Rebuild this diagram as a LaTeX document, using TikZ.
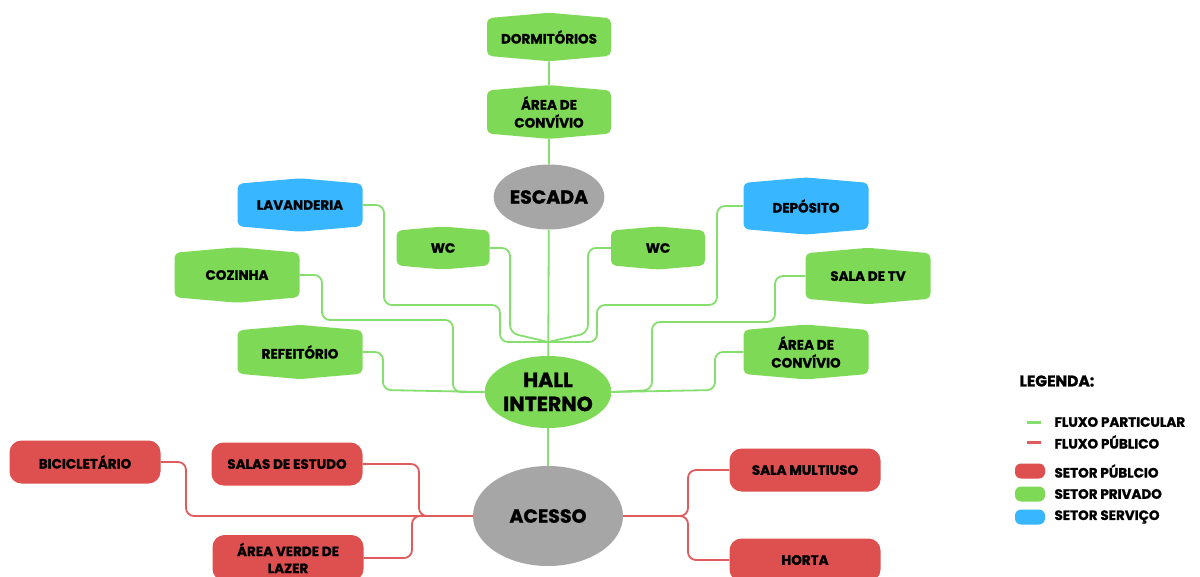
\documentclass[tikz,border=0pt]{standalone}
\usepackage{fontspec}
\setmainfont{Poppins}[BoldFeatures={FakeBold=1.2}]
\usetikzlibrary{shapes.symbols,shapes.geometric}
\definecolor{verde}{HTML}{7ED957}
\definecolor{azul}{HTML}{38B6FF}
\definecolor{vermelho}{HTML}{DE4F4F}
\definecolor{cinza}{HTML}{A6A6A6}
\definecolor{linhaverde}{HTML}{86DE6F}
\definecolor{linhavermelha}{HTML}{E05C5C}

\begin{document}
\begin{tikzpicture}[x=1pt, y=-1pt,
	hexa/.style={shape=signal, signal to=north and south, signal pointer angle=170,
		rounded corners=5pt, inner sep=0pt, align=center,
		font=\bfseries\fontsize{13.5}{18}\selectfont},
	privado/.style={hexa, fill=verde},
	servico/.style={hexa, fill=azul},
	publico/.style={rectangle, rounded corners=12pt, fill=vermelho, inner sep=0pt, align=center,
		minimum width=151pt, minimum height=43pt, font=\bfseries\fontsize{13.5}{17}\selectfont},
	bola/.style={ellipse, fill=cinza, inner sep=0pt, align=center, font=\bfseries\fontsize{19}{24}\selectfont},
	fluxopart/.style={draw=linhaverde, line width=1.8pt, rounded corners=8pt},
	fluxopub/.style={draw=linhavermelha, line width=1.8pt, rounded corners=8pt},
	legtxt/.style={anchor=west, font=\bfseries\fontsize{13.5}{15}\selectfont}]
			%%%%% START %%%%%
			\useasboundingbox[fill=white] (0,0) rectangle (1200,577);

			% nos centrais
			\node[bola, minimum width=106pt, minimum height=65pt] (escada) at (549,197) {ESCADA};
			\node[bola, fill=verde, minimum width=115pt, minimum height=72pt, font=\bfseries\fontsize{20.5}{24}\selectfont] (hall) at (548,392) {HALL\\INTERNO};
			\node[bola, minimum width=150pt, minimum height=100pt] (acesso) at (548,516) {ACESSO};

			% setor privado / servico
			\node[privado, minimum width=124pt, minimum height=46pt] (dorm) at (549,37) {DORMITÓRIOS};
			\node[privado, minimum width=124pt, minimum height=49pt] (conv1) at (549,112) {ÁREA DE\\CONVÍVIO};
			\node[servico, minimum width=125pt, minimum height=50pt] (lav) at (300,205) {LAVANDERIA};
			\node[privado, minimum width=93pt, minimum height=37pt] (wc1) at (443,248) {WC};
			\node[privado, minimum width=94pt, minimum height=37pt] (wc2) at (658,248) {WC};
			\node[servico, minimum width=125pt, minimum height=52pt] (dep) at (806,206) {DEPÓSITO};
			\node[privado, minimum width=125pt, minimum height=50pt] (coz) at (237,275) {COZINHA};
			\node[privado, minimum width=125pt, minimum height=52pt] (tv) at (868,276) {SALA DE TV};
			\node[privado, minimum width=125pt, minimum height=50pt] (ref) at (300,352) {REFEITÓRIO};
			\node[privado, minimum width=125pt, minimum height=50pt] (conv2) at (806,352) {ÁREA DE\\CONVÍVIO};

			% setor publico
			\node[publico] (bici) at (85,462) {BICICLETÁRIO};
			\node[publico] (estudo) at (287,464) {SALAS DE ESTUDO};
			\node[publico, minimum height=46pt] (lazer) at (288,558) {ÁREA VERDE DE\\LAZER};
			\node[publico] (multi) at (805,470) {SALA MULTIUSO};
			\node[publico] (horta) at (805,560) {HORTA};

			% pontos de juncao
			\coordinate (jtop) at (548,342);
			\coordinate (jesq) at (430,516);
			\coordinate (jdir) at (672,516);

			% fluxo particular
			\draw[fluxopart] (dorm) -- (conv1);
			\draw[fluxopart] (conv1) -- (escada);
			\draw[fluxopart] (escada) -- (hall);
			\draw[fluxopart] (hall) -- (acesso);
			\draw[fluxopart] (lav.east) -| (384,305) -| (500,342) -- (jtop);
			\draw[fluxopart] (wc1.east) -| (510,333) -- (jtop);
			\draw[fluxopart] (coz.east) -| (322,320) -| (453,392) -- (hall.west);
			\draw[fluxopart] (ref.east) -| (383,390) -- (hall.west);
			\draw[fluxopart] (wc2.west) -| (588,333) -- (jtop);
			\draw[fluxopart] (dep.west) -| (717,305) -| (597,342) -- (jtop);
			\draw[fluxopart] (tv.west) -| (775,322) -| (652,390) -- (hall.east);
			\draw[fluxopart] (conv2.west) -| (715,390) -- (hall.east);

			% fluxo publico
			\draw[fluxopub] (bici.east) -| (186,516) -- (acesso.west);
			\draw[fluxopub] (estudo.east) -| (419,516) -- (jesq);
			\draw[fluxopub] (lazer.east) -| (412,516) -- (jesq);
			\draw[fluxopub] (acesso.east) -- (jdir);
			\draw[fluxopub] (jdir) -| (688,470) -- (multi.west);
			\draw[fluxopub] (jdir) -| (688,560) -- (horta.west);

			% legenda
			\node[legtxt, font=\bfseries\fontsize{15.5}{17}\selectfont] (leg) at (1016,381) {LEGENDA:};
			\coordinate (lg1) at (1027,422);
			\coordinate (lg2) at (1041,422);
			\draw[linhaverde, line width=3pt] (lg1) -- (lg2);
			\node[legtxt] (legpart) at (1051,422) {FLUXO PARTICULAR};
			\coordinate (lr1) at (1027,442);
			\coordinate (lr2) at (1041,442);
			\draw[linhavermelha, line width=3pt] (lr1) -- (lr2);
			\node[legtxt] (legpub) at (1051,442) {FLUXO PÚBLICO};
			\node[fill=vermelho, rounded corners=6pt, minimum width=30pt, minimum height=15pt, inner sep=0pt] (pubbox) at (1030,471) {};
			\node[legtxt] (legspub) at (1051,471) {SETOR PÚBLCIO};
			\node[fill=verde, rounded corners=6pt, minimum width=30pt, minimum height=15pt, inner sep=0pt] (privbox) at (1030,494) {};
			\node[legtxt] (legspriv) at (1051,494) {SETOR PRIVADO};
			\node[fill=azul, rounded corners=6pt, minimum width=30pt, minimum height=15pt, inner sep=0pt] (servbox) at (1030,517) {};
			\node[legtxt] (legsserv) at (1051,517) {SETOR SERVIÇO};
			%%%%% END %%%%%
\end{tikzpicture}
\end{document}
